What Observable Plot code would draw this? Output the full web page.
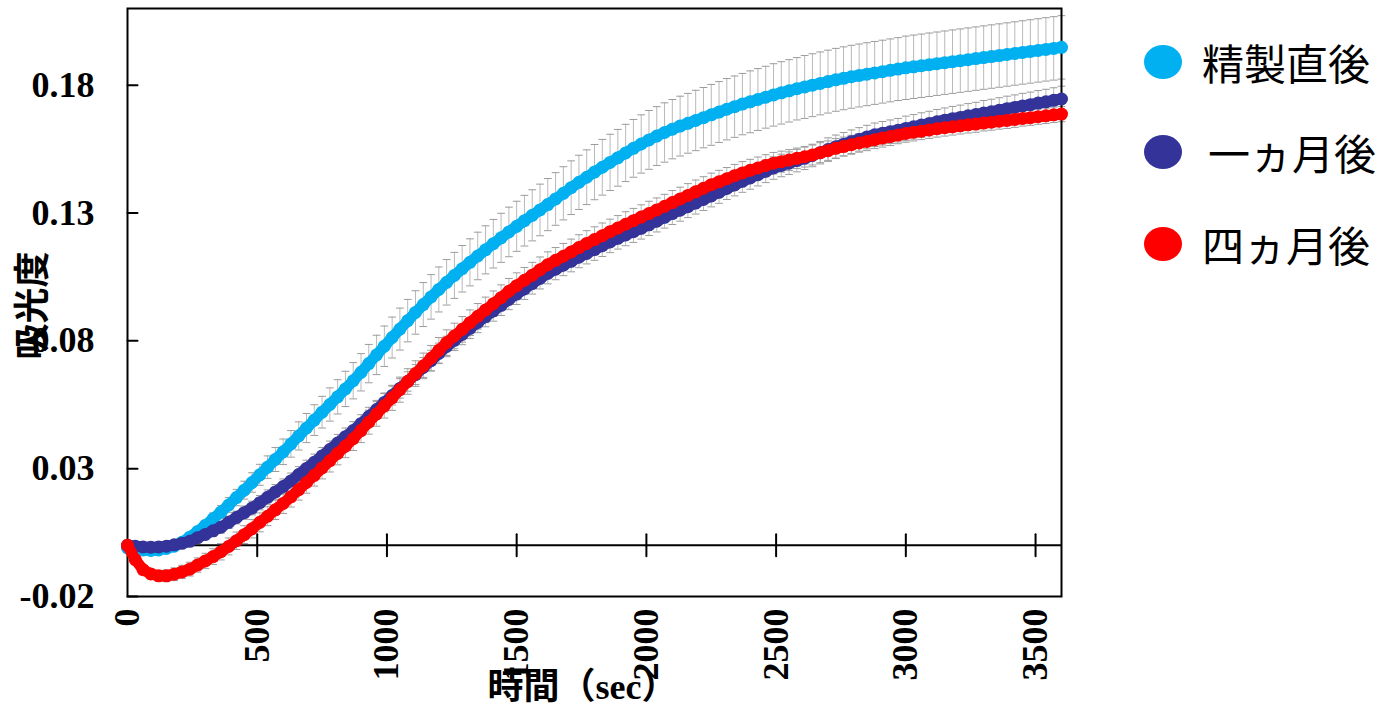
<!DOCTYPE html>
<html><head><meta charset="utf-8">
<script src="https://cdn.jsdelivr.net/npm/d3@7"></script>
<script src="https://cdn.jsdelivr.net/npm/@observablehq/plot@0.6"></script>
<style>
body{margin:0;background:#fff;}
#wrap{position:relative;width:1378px;height:709px;overflow:hidden;background:#fff;}
#chart{position:absolute;left:0;top:0;}
.row{position:absolute;left:1144px;display:flex;align-items:center;height:60px;white-space:nowrap;}
.sw{width:38px;height:34px;border-radius:50%;display:inline-block;flex:none;}
.lb{font-family:"Noto Sans CJK JP";font-size:42px;margin-left:20px;color:#000;line-height:60px;}
</style></head><body><div id="wrap"><div id="chart"></div></div>
<script>
// time (sec)
const times = [
0,30,60,90,120,150,180,210,240,270,
300,330,360,390,420,450,480,510,540,570,
600,630,660,690,720,750,780,810,840,870,
900,930,960,990,1020,1050,1080,1110,1140,1170,
1200,1230,1260,1290,1320,1350,1380,1410,1440,1470,
1500,1530,1560,1590,1620,1650,1680,1710,1740,1770,
1800,1830,1860,1890,1920,1950,1980,2010,2040,2070,
2100,2130,2160,2190,2220,2250,2280,2310,2340,2370,
2400,2430,2460,2490,2520,2550,2580,2610,2640,2670,
2700,2730,2760,2790,2820,2850,2880,2910,2940,2970,
3000,3030,3060,3090,3120,3150,3180,3210,3240,3270,
3300,3330,3360,3390,3420,3450,3480,3510,3540,3570,
3600];

const seriesNames = ["精製直後", "一ヵ月後", "四ヵ月後"];
const seriesColors = ["#00B0F0", "#333399", "#FF0000"];

// 精製直後
const fresh = [
-0.0010,-0.0014,-0.0018,-0.0020,-0.0018,-0.0012,-0.0003,0.0012,0.0032,0.0054,
0.0078,0.0104,0.0130,0.0158,0.0187,0.0216,0.0246,0.0276,0.0306,0.0336,
0.0366,0.0397,0.0428,0.0459,0.0490,0.0521,0.0551,0.0581,0.0612,0.0644,
0.0677,0.0711,0.0745,0.0779,0.0813,0.0846,0.0879,0.0911,0.0942,0.0972,
0.1001,0.1029,0.1056,0.1082,0.1107,0.1132,0.1156,0.1180,0.1203,0.1226,
0.1248,0.1270,0.1291,0.1312,0.1333,0.1355,0.1377,0.1399,0.1420,0.1440,
0.1460,0.1479,0.1498,0.1516,0.1535,0.1553,0.1570,0.1586,0.1601,0.1615,
0.1628,0.1640,0.1651,0.1662,0.1673,0.1684,0.1695,0.1706,0.1716,0.1726,
0.1735,0.1744,0.1753,0.1762,0.1770,0.1778,0.1786,0.1793,0.1800,0.1807,
0.1814,0.1821,0.1827,0.1833,0.1838,0.1843,0.1848,0.1853,0.1858,0.1863,
0.1868,0.1872,0.1876,0.1880,0.1884,0.1888,0.1892,0.1896,0.1900,0.1904,
0.1908,0.1912,0.1916,0.1920,0.1924,0.1928,0.1932,0.1936,0.1940,0.1944,
0.1948];
const freshErr = [
0.0005,0.0006,0.0007,0.0008,0.0009,0.0010,0.0012,0.0014,0.0016,0.0018,
0.0020,0.0023,0.0026,0.0029,0.0032,0.0035,0.0038,0.0041,0.0044,0.0047,
0.0050,0.0052,0.0055,0.0057,0.0060,0.0062,0.0065,0.0067,0.0069,0.0071,
0.0073,0.0075,0.0077,0.0079,0.0080,0.0082,0.0083,0.0085,0.0086,0.0087,
0.0088,0.0089,0.0090,0.0091,0.0092,0.0093,0.0094,0.0095,0.0096,0.0097,
0.0098,0.0099,0.0100,0.0101,0.0102,0.0103,0.0104,0.0105,0.0106,0.0107,
0.0108,0.0109,0.0110,0.0111,0.0112,0.0113,0.0114,0.0115,0.0115,0.0116,
0.0116,0.0117,0.0117,0.0118,0.0118,0.0119,0.0119,0.0120,0.0120,0.0120,
0.0121,0.0121,0.0121,0.0122,0.0122,0.0122,0.0122,0.0123,0.0123,0.0123,
0.0123,0.0123,0.0123,0.0123,0.0123,0.0123,0.0123,0.0123,0.0123,0.0123,
0.0124,0.0124,0.0124,0.0124,0.0124,0.0124,0.0124,0.0124,0.0124,0.0124,
0.0124,0.0124,0.0124,0.0124,0.0124,0.0124,0.0124,0.0124,0.0124,0.0124,
0.0124];

// 一ヵ月後
const oneMonth = [
0.0000,-0.0003,-0.0006,-0.0007,-0.0006,-0.0003,0.0002,0.0008,0.0016,0.0030,
0.0043,0.0057,0.0071,0.0090,0.0109,0.0128,0.0146,0.0167,0.0188,0.0209,
0.0230,0.0252,0.0277,0.0301,0.0325,0.0350,0.0375,0.0400,0.0425,0.0449,
0.0476,0.0504,0.0531,0.0559,0.0586,0.0614,0.0641,0.0668,0.0696,0.0723,
0.0751,0.0778,0.0802,0.0825,0.0849,0.0872,0.0895,0.0917,0.0939,0.0962,
0.0983,0.1003,0.1024,0.1044,0.1064,0.1080,0.1096,0.1111,0.1127,0.1142,
0.1157,0.1172,0.1187,0.1201,0.1214,0.1227,0.1240,0.1254,0.1268,0.1283,
0.1298,0.1311,0.1325,0.1339,0.1353,0.1367,0.1381,0.1396,0.1410,0.1424,
0.1437,0.1450,0.1463,0.1476,0.1486,0.1495,0.1505,0.1514,0.1525,0.1536,
0.1548,0.1559,0.1569,0.1579,0.1588,0.1597,0.1606,0.1612,0.1618,0.1624,
0.1631,0.1637,0.1644,0.1650,0.1657,0.1663,0.1669,0.1674,0.1680,0.1685,
0.1691,0.1696,0.1702,0.1708,0.1713,0.1719,0.1724,0.1730,0.1735,0.1741,
0.1746];
const oneMonthErr = [
0.0005,0.0007,0.0009,0.0011,0.0013,0.0015,0.0017,0.0018,0.0019,0.0020,
0.0021,0.0022,0.0023,0.0024,0.0025,0.0026,0.0027,0.0028,0.0029,0.0029,
0.0030,0.0031,0.0031,0.0032,0.0032,0.0033,0.0033,0.0034,0.0034,0.0035,
0.0035,0.0036,0.0036,0.0037,0.0037,0.0038,0.0038,0.0039,0.0039,0.0040,
0.0040,0.0040,0.0040,0.0040,0.0040,0.0040,0.0040,0.0040,0.0040,0.0040,
0.0041,0.0041,0.0041,0.0041,0.0041,0.0041,0.0041,0.0041,0.0041,0.0041,
0.0042,0.0042,0.0042,0.0042,0.0042,0.0042,0.0042,0.0042,0.0042,0.0042,
0.0043,0.0043,0.0043,0.0043,0.0043,0.0043,0.0043,0.0043,0.0043,0.0043,
0.0044,0.0044,0.0044,0.0044,0.0044,0.0044,0.0044,0.0044,0.0044,0.0044,
0.0046,0.0046,0.0046,0.0046,0.0046,0.0046,0.0046,0.0046,0.0046,0.0046,
0.0048,0.0048,0.0048,0.0048,0.0048,0.0048,0.0048,0.0048,0.0048,0.0048,
0.0049,0.0049,0.0049,0.0049,0.0049,0.0049,0.0049,0.0049,0.0049,0.0049,
0.0050];

// 四ヵ月後
const fourMonths = [
0.0000,-0.0056,-0.0095,-0.0112,-0.0119,-0.0119,-0.0113,-0.0104,-0.0093,-0.0077,
-0.0061,-0.0044,-0.0025,-0.0004,0.0018,0.0042,0.0065,0.0090,0.0114,0.0139,
0.0164,0.0190,0.0218,0.0246,0.0274,0.0303,0.0331,0.0360,0.0388,0.0417,
0.0449,0.0482,0.0514,0.0546,0.0577,0.0609,0.0641,0.0672,0.0702,0.0732,
0.0763,0.0793,0.0819,0.0845,0.0871,0.0896,0.0921,0.0945,0.0969,0.0994,
0.1016,0.1037,0.1057,0.1078,0.1098,0.1115,0.1131,0.1148,0.1165,0.1181,
0.1196,0.1211,0.1227,0.1241,0.1256,0.1270,0.1284,0.1298,0.1312,0.1326,
0.1341,0.1355,0.1369,0.1383,0.1397,0.1411,0.1422,0.1434,0.1446,0.1457,
0.1467,0.1476,0.1486,0.1495,0.1501,0.1507,0.1514,0.1520,0.1527,0.1536,
0.1544,0.1553,0.1560,0.1567,0.1574,0.1580,0.1587,0.1593,0.1599,0.1605,
0.1611,0.1616,0.1620,0.1625,0.1630,0.1634,0.1637,0.1641,0.1645,0.1648,
0.1652,0.1655,0.1659,0.1662,0.1666,0.1670,0.1673,0.1677,0.1680,0.1684,
0.1687];
const fourMonthsErr = [
0.0010,0.0013,0.0016,0.0019,0.0021,0.0023,0.0025,0.0026,0.0027,0.0028,
0.0030,0.0031,0.0032,0.0033,0.0034,0.0035,0.0036,0.0037,0.0037,0.0038,
0.0039,0.0040,0.0041,0.0042,0.0042,0.0043,0.0044,0.0045,0.0045,0.0046,
0.0047,0.0047,0.0048,0.0048,0.0049,0.0049,0.0050,0.0050,0.0050,0.0050,
0.0050,0.0050,0.0050,0.0050,0.0050,0.0050,0.0050,0.0050,0.0050,0.0050,
0.0050,0.0050,0.0050,0.0050,0.0050,0.0050,0.0050,0.0050,0.0050,0.0050,
0.0050,0.0050,0.0049,0.0049,0.0049,0.0048,0.0048,0.0048,0.0047,0.0047,
0.0047,0.0046,0.0046,0.0046,0.0045,0.0045,0.0045,0.0044,0.0044,0.0044,
0.0043,0.0043,0.0042,0.0042,0.0041,0.0041,0.0040,0.0040,0.0039,0.0039,
0.0038,0.0038,0.0037,0.0037,0.0036,0.0036,0.0035,0.0035,0.0035,0.0034,
0.0034,0.0034,0.0033,0.0033,0.0033,0.0033,0.0032,0.0032,0.0032,0.0032,
0.0031,0.0031,0.0031,0.0031,0.0031,0.0030,0.0030,0.0030,0.0030,0.0030,
0.0030];

// axis ticks
const xTicks = [500, 1000, 1500, 2000, 2500, 3000, 3500];
const xTickLabelValues = [0, 500, 1000, 1500, 2000, 2500, 3000, 3500];
const xTickLabels = ["0", "500", "1000", "1500", "2000", "2500", "3000", "3500"];
const yTicks = [-0.02, 0.03, 0.08, 0.13, 0.18];
const yTickLabels = ["-0.02", "0.03", "0.08", "0.13", "0.18"];
const xTitle = "時間（sec）";
const yTitle = "吸光度";

const valueSets = [fresh, oneMonth, fourMonths];
const errSets = [freshErr, oneMonthErr, fourMonthsErr];
const series = seriesNames.map((name, k) => ({
  name, color: seriesColors[k],
  rows: times.map((t, i) => ({t, v: valueSets[k][i], e: errSets[k][i]}))
}));
const allRows = series.flatMap(s => s.rows);

const seg = {draw(context, l) { context.moveTo(0, 0); context.lineTo(0, -l); }};
const serif = "'Liberation Serif', 'Times New Roman', serif";

const marks = [
  Plot.ruleX(allRows, {x: "t", y1: d => d.v - d.e, y2: d => d.v + d.e, stroke: "#b8b8b8", strokeWidth: 1}),
  Plot.vector(allRows, {x: "t", y: d => d.v + d.e, rotate: 90, length: 7, anchor: "middle", shape: seg, stroke: "#9c9c9c", strokeWidth: 1}),
  Plot.vector(allRows, {x: "t", y: d => d.v - d.e, rotate: 90, length: 7, anchor: "middle", shape: seg, stroke: "#9c9c9c", strokeWidth: 1}),
  Plot.ruleY([0], {stroke: "#000", strokeWidth: 2}),
  Plot.frame({stroke: "#000", strokeWidth: 2}),
  Plot.vector(xTicks, {x: d => d, y: 0, length: 22, anchor: "middle", shape: seg, stroke: "#000", strokeWidth: 2}),
  Plot.vector(yTicks, {x: 0, y: d => d, rotate: 90, length: 10, anchor: "start", shape: seg, stroke: "#000", strokeWidth: 2})
];
for (const s of series) {
  marks.push(Plot.line(s.rows, {x: "t", y: "v", stroke: s.color, strokeWidth: 11, strokeLinecap: "round", strokeLinejoin: "round"}));
  marks.push(Plot.dot(s.rows, {x: "t", y: "v", r: 6.5, fill: s.color, stroke: "none"}));
}
marks.push(
  Plot.text(yTicks, {y: d => d, text: (d, i) => yTickLabels[i], frameAnchor: "left", textAnchor: "end", lineAnchor: "middle", dx: -33, fontSize: 36, fontWeight: "bold", fontFamily: serif, fill: "#000"}),
  Plot.text(xTickLabelValues, {x: d => d, text: (d, i) => xTickLabels[i], frameAnchor: "bottom", rotate: -90, textAnchor: "end", lineAnchor: "middle", dy: 12, fontSize: 36, fontWeight: "bold", fontFamily: serif, fill: "#000"}),
  Plot.text([yTitle], {text: d => d, frameAnchor: "left", rotate: -90, textAnchor: "middle", lineAnchor: "middle", dx: -94, dy: 3, fontSize: 36, fontWeight: "bold", fontFamily: "'Noto Sans CJK JP'", fill: "#000"}),
  Plot.text([xTitle], {text: d => d, frameAnchor: "bottom", textAnchor: "middle", lineAnchor: "middle", dx: -12, dy: 91, fontSize: 36, fontWeight: "bold", fontFamily: serif + ", 'Noto Sans CJK JP'", fill: "#000"})
);

const chart = Plot.plot({
  width: 1100, height: 709,
  marginLeft: 127, marginRight: 39, marginTop: 8, marginBottom: 113,
  x: {domain: [0, 3600], axis: null},
  y: {domain: [-0.02, 0.21], axis: null},
  style: {background: "#fff", overflow: "visible"},
  marks
});
document.getElementById("chart").appendChild(chart);

// legend
const wrap = document.getElementById("wrap");
const legendCenters = [62, 152, 244];
series.forEach((s, k) => {
  const row = document.createElement("div");
  row.className = "row";
  row.style.top = (legendCenters[k] - 30) + "px";
  const sw = document.createElement("span");
  sw.className = "sw";
  sw.style.background = s.color;
  const lb = document.createElement("span");
  lb.className = "lb";
  lb.textContent = s.name;
  if (k === 1) lb.style.marginLeft = "26px";
  row.appendChild(sw); row.appendChild(lb);
  wrap.appendChild(row);
});
</script></body></html>
